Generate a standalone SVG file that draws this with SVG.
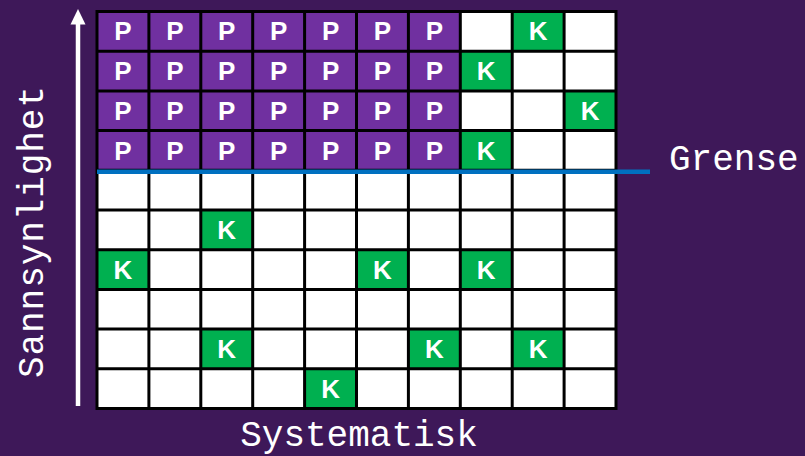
<svg xmlns="http://www.w3.org/2000/svg" width="805" height="456" viewBox="0 0 805 456">
<defs>
<style>
.p{fill:#7030A0}
.k{fill:#00B050}
.t{font-family:"Liberation Sans",Arial,sans-serif;font-weight:bold;font-size:26px;fill:#fff;text-anchor:middle}
.lab{font-family:"Liberation Mono","Courier New",monospace;font-size:36px;fill:#fff}
.grid{stroke:#000;stroke-width:3;fill:none}
</style>
</defs>
<rect x="0" y="0" width="805" height="456" fill="#3E1859"/>
<rect x="97" y="11.5" width="519" height="397" fill="#fff"/>
<g id="cells">
<g id="row0">
<rect class="p" x="97" y="11.5" width="363.3" height="39.7"/>
<text class="t" x="122.95" y="40.4">P</text><text class="t" x="174.85" y="40.4">P</text><text class="t" x="226.75" y="40.4">P</text><text class="t" x="278.65" y="40.4">P</text><text class="t" x="330.55" y="40.4">P</text><text class="t" x="382.45" y="40.4">P</text><text class="t" x="434.35" y="40.4">P</text>
<rect class="k" x="512.2" y="11.5" width="51.9" height="39.7"/><text class="t" x="538.15" y="40.4">K</text>
</g>
<g id="row1">
<rect class="p" x="97" y="51.2" width="363.3" height="39.7"/>
<text class="t" x="122.95" y="80.1">P</text><text class="t" x="174.85" y="80.1">P</text><text class="t" x="226.75" y="80.1">P</text><text class="t" x="278.65" y="80.1">P</text><text class="t" x="330.55" y="80.1">P</text><text class="t" x="382.45" y="80.1">P</text><text class="t" x="434.35" y="80.1">P</text>
<rect class="k" x="460.3" y="51.2" width="51.9" height="39.7"/><text class="t" x="486.25" y="80.1">K</text>
</g>
<g id="row2">
<rect class="p" x="97" y="90.9" width="363.3" height="39.7"/>
<text class="t" x="122.95" y="119.8">P</text><text class="t" x="174.85" y="119.8">P</text><text class="t" x="226.75" y="119.8">P</text><text class="t" x="278.65" y="119.8">P</text><text class="t" x="330.55" y="119.8">P</text><text class="t" x="382.45" y="119.8">P</text><text class="t" x="434.35" y="119.8">P</text>
<rect class="k" x="564.1" y="90.9" width="51.9" height="39.7"/><text class="t" x="590.05" y="119.8">K</text>
</g>
<g id="row3">
<rect class="p" x="97" y="130.6" width="363.3" height="39.7"/>
<text class="t" x="122.95" y="159.5">P</text><text class="t" x="174.85" y="159.5">P</text><text class="t" x="226.75" y="159.5">P</text><text class="t" x="278.65" y="159.5">P</text><text class="t" x="330.55" y="159.5">P</text><text class="t" x="382.45" y="159.5">P</text><text class="t" x="434.35" y="159.5">P</text>
<rect class="k" x="460.3" y="130.6" width="51.9" height="39.7"/><text class="t" x="486.25" y="159.5">K</text>
</g>
<g id="row5">
<rect class="k" x="200.8" y="210" width="51.9" height="39.7"/><text class="t" x="226.75" y="238.9">K</text>
</g>
<g id="row6">
<rect class="k" x="97" y="249.7" width="51.9" height="39.7"/><text class="t" x="122.95" y="278.6">K</text>
<rect class="k" x="356.5" y="249.7" width="51.9" height="39.7"/><text class="t" x="382.45" y="278.6">K</text>
<rect class="k" x="460.3" y="249.7" width="51.9" height="39.7"/><text class="t" x="486.25" y="278.6">K</text>
</g>
<g id="row8">
<rect class="k" x="200.8" y="329.1" width="51.9" height="39.7"/><text class="t" x="226.75" y="358">K</text>
<rect class="k" x="408.4" y="329.1" width="51.9" height="39.7"/><text class="t" x="434.35" y="358">K</text>
<rect class="k" x="512.2" y="329.1" width="51.9" height="39.7"/><text class="t" x="538.15" y="358">K</text>
</g>
<g id="row9">
<rect class="k" x="304.6" y="368.8" width="51.9" height="39.7"/><text class="t" x="330.55" y="397.7">K</text>
</g>
</g>
<g id="connectors">
<path class="grid" d="M97 11.5V408.5M148.9 11.5V408.5M200.8 11.5V408.5M252.7 11.5V408.5M304.6 11.5V408.5M356.5 11.5V408.5M408.4 11.5V408.5M460.3 11.5V408.5M512.2 11.5V408.5M564.1 11.5V408.5M616 11.5V408.5M95.5 11.5H617.5M95.5 51.2H617.5M95.5 90.9H617.5M95.5 130.6H617.5M95.5 170.3H617.5M95.5 210H617.5M95.5 249.7H617.5M95.5 289.4H617.5M95.5 329.1H617.5M95.5 368.8H617.5M95.5 408.5H617.5"/>
<line id="grense-line" x1="97" y1="171.7" x2="650" y2="171.7" stroke="#0070C0" stroke-width="4.5"/>
<g id="axis-arrow">
<line x1="78" y1="406" x2="78" y2="22" stroke="#fff" stroke-width="4.5"/>
<polygon points="78,9 70.5,24.5 85.5,24.5" fill="#fff"/>
</g>
</g>
<g id="labels">
<text id="grense" class="lab" x="669" y="170">Grense</text>
<text id="systematisk" class="lab" x="359" y="446" text-anchor="middle">Systematisk</text>
<text id="sannsynlighet" class="lab" text-anchor="middle" transform="translate(43,232) rotate(-90)" textLength="292" lengthAdjust="spacing">Sannsynlighet</text>
</g>
</svg>
